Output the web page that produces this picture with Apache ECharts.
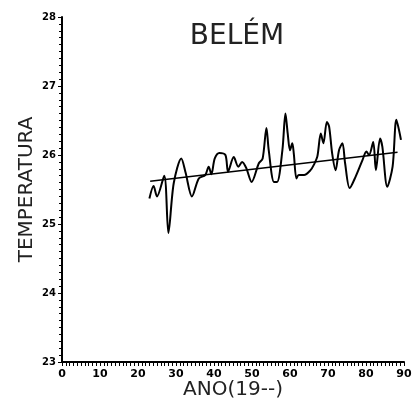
<!DOCTYPE html>
<html>
<head>
<meta charset="utf-8">
<script src="https://cdn.jsdelivr.net/npm/echarts@6/dist/echarts.min.js"></script>
<style>html,body{margin:0;padding:0;background:#fff}#c{width:419px;height:405px}</style>
</head>
<body>
<div id="c"></div>
<script>
var years = [23.0,24.1,25.0,26.9,28.0,29.4,31.4,32.5,34.2,36.0,37.7,38.6,39.3,40.2,41.4,43.0,43.7,45.2,46.4,47.4,48.5,49.9,51.8,52.8,53.8,54.4,55.8,56.6,58.0,58.8,59.4,60.0,60.6,61.0,61.7,62.3,63.7,65.4,66.3,67.2,68.1,68.8,69.7,70.3,71.1,72.0,72.9,73.8,74.5,75.7,77.3,79.1,80.1,80.8,81.9,82.6,83.7,84.3,85.6,87.0,88.0,89.2];
var temps = [25.37,25.55,25.40,25.70,24.87,25.59,25.95,25.75,25.40,25.66,25.71,25.83,25.72,25.95,26.03,26.00,25.76,25.97,25.83,25.90,25.81,25.61,25.88,25.95,26.39,26.07,25.61,25.61,26.07,26.60,26.31,26.07,26.17,26.02,25.66,25.71,25.71,25.78,25.86,25.98,26.31,26.17,26.48,26.41,26.02,25.78,26.07,26.17,25.88,25.52,25.69,25.93,26.05,26.00,26.19,25.78,26.24,26.12,25.54,25.83,26.51,26.22];
var trendYears = [23.2, 88.3];
var trendTemps = [25.62, 26.04];
var title = 'BELÉM';
var yName = 'TEMPERATURA';
var xName = 'ANO(19--)';

var series1 = years.map(function(y,i){return [y, temps[i]];});
var trend = trendYears.map(function(y,i){return [y, trendTemps[i]];});

var chart = echarts.init(document.getElementById('c'));
chart.setOption({
  animation: false,
  backgroundColor: '#fff',
  title: {
    text: title, left: 232, top: 18, textAlign: 'center',
    textStyle: {fontFamily: 'DejaVu Sans', fontSize: 28, fontWeight: 'normal', color: '#222'}
  },
  grid: {left: 62, right: 15, top: 17, bottom: 43},
  xAxis: {
    type: 'value', min: 0, max: 90, interval: 10,
    name: xName, nameLocation: 'middle', nameGap: 18, nameMoveOverlap: false,
    nameTextStyle: {fontFamily: 'DejaVu Sans', fontSize: 20, color: '#222', verticalAlign: 'top'},
    axisLine: {lineStyle: {color: '#000', width: 2}},
    axisTick: {show: true, length: 4, lineStyle: {color: '#000', width: 1}},
    minorTick: {show: true, splitNumber: 10, length: 4, lineStyle: {color: '#000', width: 1}},
    axisLabel: {margin: 7, fontFamily: 'DejaVu Sans', fontSize: 11, fontWeight: 'bold', color: '#000'},
    splitLine: {show: false}
  },
  yAxis: {
    type: 'value', min: 23, max: 28, interval: 1,
    name: yName, nameLocation: 'middle', nameGap: 25, nameRotate: 90, nameMoveOverlap: false,
    nameTextStyle: {fontFamily: 'DejaVu Sans', fontSize: 20, color: '#222'},
    axisLine: {show: true, lineStyle: {color: '#000', width: 2}},
    axisTick: {show: true, length: 4, lineStyle: {color: '#000', width: 1}},
    minorTick: {show: true, splitNumber: 10, length: 3, lineStyle: {color: '#000', width: 1}},
    axisLabel: {margin: 6, fontFamily: 'DejaVu Sans', fontSize: 10, fontWeight: 'bold', color: '#000'},
    splitLine: {show: false}
  },
  series: [
    {type: 'line', data: series1, showSymbol: false, smooth: 0.3,
     lineStyle: {color: '#000', width: 2}},
    {type: 'line', data: trend, showSymbol: false,
     lineStyle: {color: '#000', width: 1.5}}
  ]
});
</script>
</body>
</html>
